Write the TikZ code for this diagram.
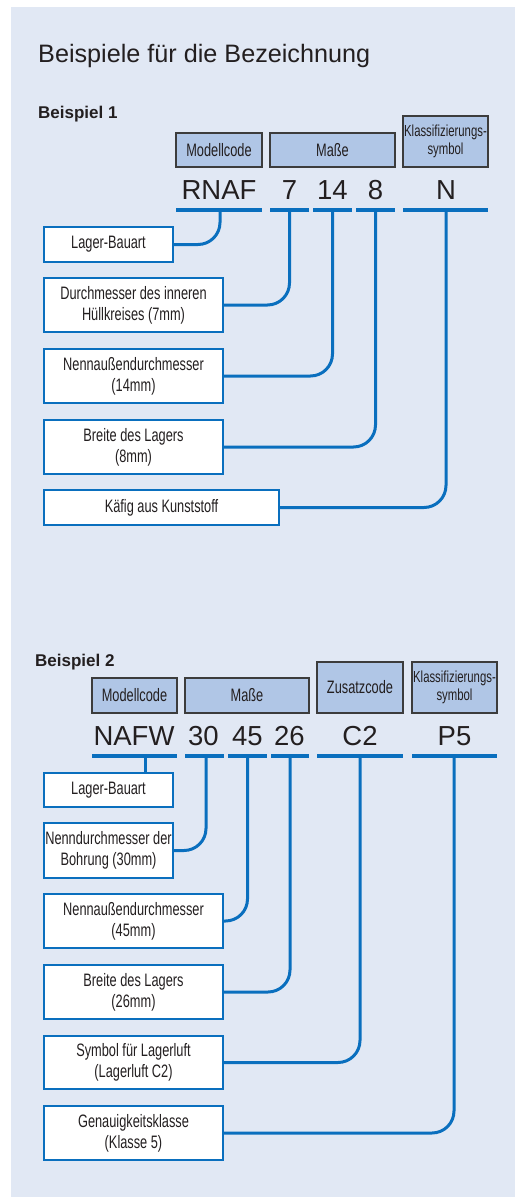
\documentclass[tikz,border=0pt]{standalone}
\usepackage{fontspec}
\setmainfont{Liberation Sans}
\newfontfamily\cond[FakeStretch=0.71]{Liberation Sans}
\definecolor{panel}{HTML}{E1E8F4}
\definecolor{hdrfill}{HTML}{B0C6E6}
\definecolor{lineblue}{HTML}{0A6FBE}
\definecolor{txt}{HTML}{231F20}
\definecolor{hdrdraw}{HTML}{3C3C3C}
\begin{document}
\begin{tikzpicture}[x=1pt,y=-1pt,
 hdr/.style={draw=hdrdraw, line width=1.1pt, fill=hdrfill, inner sep=0pt, outer sep=0pt, anchor=north west, font=\cond\fontsize{18}{20.7}\selectfont, text=txt, align=center},
 hdrsmall/.style={hdr, font=\cond\fontsize{16}{17.5}\selectfont},
 lbl/.style={draw=lineblue, line width=1.1pt, fill=white, inner sep=0pt, outer sep=0pt, anchor=north west, font=\cond\fontsize{18}{20.7}\selectfont, text=txt, align=center},
 code/.style={anchor=base, inner sep=0pt, font=\fontsize{27.5}{30}\selectfont, text=txt},
 heading/.style={anchor=base west, inner sep=0pt, text=txt},
 ul/.style={lineblue, line width=3.4pt},
 conn/.style={lineblue, line width=3pt, rounded corners=22pt},
]
\useasboundingbox (0,0) rectangle (515,1197);
\fill[panel] (11,7) rectangle (515,1197);

\node[heading, font=\fontsize{25.2}{30}\selectfont] (title) at (38,62) {Beispiele für die Bezeichnung};

% ---------------- Beispiel 1
\node[heading, font=\bfseries\fontsize{17}{20}\selectfont] (bsp1) at (38,118) {Beispiel 1};

\node[hdr, minimum width=86pt, minimum height=34pt] (h1a) at (176,133) {Modellcode};
\node[hdr, minimum width=125pt, minimum height=34pt] (h1b) at (270,133) {Maße};
\node[hdrsmall, minimum width=85pt, minimum height=51pt] (h1c) at (403,116) {Klassifizierungs-\\symbol};

\node[code] (c1a) at (219,199) {RNAF};
\node[code] (c1b) at (289.5,199) {7};
\node[code] (c1c) at (332.5,199) {14};
\node[code] (c1d) at (375.5,199) {8};
\node[code] (c1e) at (446,199) {N};

\draw[ul] (176,210) -- (262,210);
\draw[ul] (270,210) -- (309,210);
\draw[ul] (313,210) -- (352,210);
\draw[ul] (356,210) -- (395,210);
\draw[ul] (403,210) -- (488,210);
\coordinate (u1a) at (220,210);
\coordinate (u1b) at (289.5,210);
\coordinate (u1c) at (332.5,210);
\coordinate (u1d) at (375.5,210);
\coordinate (u1e) at (446,210);

\node[lbl, minimum width=129pt, minimum height=35pt] (b1) at (44,227) {Lager-Bauart};
\node[lbl, minimum width=179pt, minimum height=54pt] (b2) at (44,278) {Durchmesser des inneren\\Hüllkreises (7mm)};
\node[lbl, minimum width=179pt, minimum height=54pt] (b3) at (44,349) {Nennaußendurchmesser\\(14mm)};
\node[lbl, minimum width=179pt, minimum height=54pt] (b4) at (44,420) {Breite des Lagers\\(8mm)};
\node[lbl, minimum width=235pt, minimum height=35pt] (b5) at (44,490) {Käfig aus Kunststoff};

\draw[conn] (b1.east) -| (u1a);
\draw[conn] (b2.east) -| (u1b);
\draw[conn] (b3.east) -| (u1c);
\draw[conn] (b4.east) -| (u1d);
\draw[conn] (b5.east) -| (u1e);

% ---------------- Beispiel 2
\node[heading, font=\bfseries\fontsize{17}{20}\selectfont] (bsp2) at (35,666) {Beispiel 2};

\node[hdr, minimum width=85pt, minimum height=35pt] (h2a) at (92,678) {Modellcode};
\node[hdr, minimum width=124pt, minimum height=35pt] (h2b) at (185,678) {Maße};
\node[hdr, minimum width=86pt, minimum height=51pt] (h2c) at (317,662) {Zusatzcode};
\node[hdrsmall, minimum width=85pt, minimum height=51pt] (h2d) at (412,662) {Klassifizierungs-\\symbol};

\node[code] (c2a) at (134,745) {NAFW};
\node[code] (c2b) at (203.5,745) {30};
\node[code] (c2c) at (247.5,745) {45};
\node[code] (c2d) at (289.5,745) {26};
\node[code] (c2e) at (360,745) {C2};
\node[code] (c2f) at (454.5,745) {P5};

\draw[ul] (92,756) -- (177,756);
\draw[ul] (185,756) -- (224,756);
\draw[ul] (228,756) -- (267,756);
\draw[ul] (271,756) -- (309,756);
\draw[ul] (317,756) -- (403,756);
\draw[ul] (412,756) -- (497,756);
\coordinate (u2a) at (145,756);
\coordinate (u2b) at (206,756);
\coordinate (u2c) at (247.5,756);
\coordinate (u2d) at (290,756);
\coordinate (u2e) at (360,756);
\coordinate (u2f) at (454,756);

\node[lbl, minimum width=129pt, minimum height=34pt] (d1) at (44,773) {Lager-Bauart};
\node[lbl, minimum width=129pt, minimum height=55pt] (d2) at (44,823) {Nenndurchmesser der\\Bohrung (30mm)};
\node[lbl, minimum width=179pt, minimum height=54pt] (d3) at (44,894) {Nennaußendurchmesser\\(45mm)};
\node[lbl, minimum width=179pt, minimum height=54pt] (d4) at (44,965) {Breite des Lagers\\(26mm)};
\node[lbl, minimum width=179pt, minimum height=53pt] (d5) at (44,1036) {Symbol für Lagerluft\\(Lagerluft C2)};
\node[lbl, minimum width=179pt, minimum height=54pt] (d6) at (44,1106) {Genauigkeitsklasse\\(Klasse 5)};

\draw[conn] (u2a) -- (u2a |- d1.north);
\draw[conn] (d2.east) -| (u2b);
\draw[conn] (d3.east) -| (u2c);
\draw[conn] (d4.east) -| (u2d);
\draw[conn] (d5.east) -| (u2e);
\draw[conn] (d6.east) -| (u2f);
\end{tikzpicture}
\end{document}
